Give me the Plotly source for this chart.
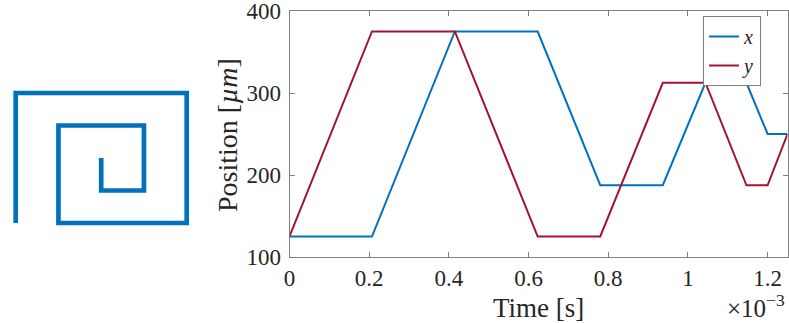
import plotly.graph_objects as go

# Event times (units of 1e-3 s) where a motion segment starts/ends
t_ms = [0, 0.207, 0.415, 0.623, 0.780, 0.937, 1.044, 1.147, 1.200, 1.250]
# Stage positions in micrometres at those events
pos_x = [125, 125, 375, 375, 187.5, 187.5, 312.5, 312.5, 250, 250]
pos_y = [125, 375, 375, 125, 125, 312.5, 312.5, 187.5, 187.5, 250]

x_ticks = [0, 0.2, 0.4, 0.6, 0.8, 1.0, 1.2]
x_tick_text = ["0", "0.2", "0.4", "0.6", "0.8", "1", "1.2"]
y_ticks = [100, 200, 300, 400]

BLUE = "#0072BD"
RED = "#A2142F"
AXC = "#808080"
TXT = "#262626"
FONT = "Liberation Serif"

W, H = 789, 323

fig = go.Figure()

# Spiral path (left)
fig.add_trace(go.Scatter(x=pos_x, y=pos_y, mode="lines",
                         line=dict(color=BLUE, width=4.7),
                         xaxis="x2", yaxis="y2", showlegend=False, hoverinfo="skip"))

# Time series (right)
fig.add_trace(go.Scatter(x=t_ms, y=pos_x, mode="lines", name="<i>x</i>",
                         line=dict(color=BLUE, width=2), xaxis="x", yaxis="y"))
fig.add_trace(go.Scatter(x=t_ms, y=pos_y, mode="lines", name="<i>y</i>",
                         line=dict(color=RED, width=2), xaxis="x", yaxis="y"))

def px_x(p):
    return p / W

def px_y(p):
    return 1 - p / H

axis_common = dict(showline=True, linecolor=AXC, linewidth=1, mirror="ticks",
                   ticks="inside", ticklen=5, tickcolor=AXC, showgrid=False,
                   zeroline=False, automargin=False, ticklabeloverflow="allow",
                   tickfont=dict(family=FONT, size=23, color=TXT))

fig.update_layout(
    width=W, height=H,
    margin=dict(l=0, r=0, t=0, b=0, autoexpand=False),
    paper_bgcolor="white", plot_bgcolor="white",
    xaxis=dict(domain=[px_x(289.5), px_x(787.5)], range=[0, 1.25],
               tickvals=x_ticks, ticktext=x_tick_text, anchor="y",
               ticklabelstandoff=0, **axis_common),
    yaxis=dict(domain=[px_y(257), px_y(11)], range=[100, 400],
               tickvals=y_ticks, anchor="x", ticklabelstandoff=3, **axis_common),
    xaxis2=dict(domain=[px_x(8.86), px_x(193.54)], range=[115, 385],
                visible=False, anchor="y2", automargin=False),
    yaxis2=dict(domain=[px_y(228.2), px_y(87.8)], range=[115, 385],
                visible=False, anchor="x2", automargin=False),
    legend=dict(x=px_x(761), xanchor="right", y=px_y(16), yanchor="top",
                bgcolor="white", bordercolor=AXC, borderwidth=1,
                font=dict(family=FONT, size=20, color=TXT),
                itemwidth=30, tracegroupgap=0),
    annotations=[
        dict(text="Time [s]", x=px_x(538), y=px_y(308), xref="paper", yref="paper",
             showarrow=False, xanchor="center", yanchor="middle",
             font=dict(family=FONT, size=27, color=TXT)),
        dict(text="Position [<i>µm</i>]", x=px_x(228), y=px_y(135), xref="paper",
             yref="paper", showarrow=False, textangle=-90, xanchor="center",
             yanchor="middle", font=dict(family=FONT, size=28, color=TXT)),
        dict(text="×10<sup>−3</sup>", x=px_x(787), y=px_y(306), xref="paper",
             yref="paper", showarrow=False, xanchor="right", yanchor="middle",
             font=dict(family=FONT, size=25, color=TXT)),
    ],
)

fig.write_html("out.html", config={"displayModeBar": False},
               post_script="document.body.style.margin='0';document.body.style.overflow='hidden';")
